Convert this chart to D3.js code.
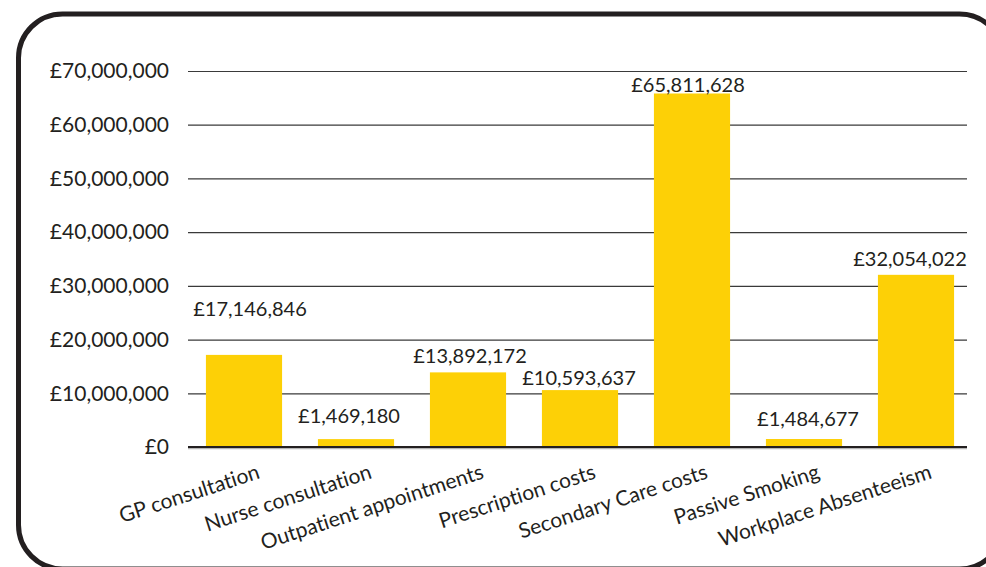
<!DOCTYPE html>
<html>
<head>
<meta charset="utf-8">
<script src="https://cdn.jsdelivr.net/npm/d3@7"></script>
<style>
    body { margin: 0; background: #ffffff; }
    svg { display: block; font-family: Lato, "Open Sans", sans-serif; font-variant-ligatures: none; }
</style>
</head>
<body>
<div class="costChart"></div>
<script>
// categories and values
const categories = ["GP consultation", "Nurse consultation", "Outpatient appointments", "Prescription costs",
    "Secondary Care costs", "Passive Smoking", "Workplace Absenteeism"]
const costs = [17146846, 1469180, 13892172, 10593637, 65811628, 1484677, 32054022]
const yTicks = [0, 10000000, 20000000, 30000000, 40000000, 50000000, 60000000, 70000000]

// hand nudges of the value labels (they sit a bit off in the original)
const labelDx = [6, -7, 2, -1, -4, 4, -6]
const labelDy = [-31, -8, -1, 3, 7, -5, -1]

function renderCostChart() {
    const width = 986
    const height = 567
    const margin = {left: 188, right: 19, top: 71, bottom: 120}
    const ink = "#231f20"

    const svg = d3.select('.costChart').append('svg')
        .attr('width', width)
        .attr('height', height)

    // rounded frame, runs off the right and bottom edges
    svg.append("rect")
        .attr("x", 18.5)
        .attr("y", 14)
        .attr("width", 985)
        .attr("height", 555)
        .attr("rx", 44)
        .attr("fill", "none")
        .attr("stroke", ink)
        .attr("stroke-width", 5)

    const x = d3.scaleBand()
        .domain(categories)
        .range([margin.left, 972])
        .paddingInner(0.32)
        .paddingOuter(0.16)

    const y = d3.scaleLinear()
        .domain([0, 70000000])
        .range([height - margin.bottom, margin.top])

    const money = v => "£" + d3.format(",")(v)
    const gridEnd = width - margin.right

    // gridlines + y labels
    const yAxis = svg.append("g")
        .attr("transform", "translate(" + margin.left + ",0)")
        .call(d3.axisLeft(y).tickValues(yTicks).tickFormat(money).tickSize(-(gridEnd - margin.left)).tickPadding(19))
    yAxis.select(".domain").remove()
    yAxis.selectAll(".tick line")
        .attr("stroke", "#3a3a3a")
        .attr("stroke-width", 1.2)
    yAxis.selectAll(".tick text")
        .attr("fill", ink)
        .attr("font-size", "21px")
        .attr("font-family", "Lato, sans-serif")

    const cost = categories.map((c, i) => ({name: c, value: costs[i], i: i}))

    svg.selectAll(".bar")
        .data(cost).enter()
        .append("rect")
        .attr("class", "bar")
        .attr("x", d => x(d.name))
        .attr("y", d => y(d.value))
        .attr("width", x.bandwidth())
        .attr("height", d => y(0) - y(d.value))
        .attr("fill", "#fdd006")

    // baseline
    svg.append("line")
        .attr("x1", margin.left)
        .attr("x2", gridEnd)
        .attr("y1", y(0) + 1.5)
        .attr("y2", y(0) + 1.5)
        .attr("stroke", "#b5b5b5")
        .attr("stroke-width", 1.5)
    svg.append("line")
        .attr("x1", margin.left)
        .attr("x2", gridEnd)
        .attr("y1", y(0))
        .attr("y2", y(0))
        .attr("stroke", ink)
        .attr("stroke-width", 2)

    svg.selectAll(".valueLabel")
        .data(cost).enter()
        .append("text")
        .attr("class", "valueLabel")
        .attr("x", d => x(d.name) + x.bandwidth() / 2 + labelDx[d.i])
        .attr("y", d => y(d.value) - 8 + labelDy[d.i])
        .attr("text-anchor", "middle")
        .attr("font-size", "20px")
        .attr("fill", ink)
        .text(d => money(d.value))

    // slanted category labels
    svg.selectAll(".catLabel")
        .data(cost).enter()
        .append("text")
        .attr("class", "catLabel")
        .attr("transform", d => "translate(" + (x(d.name) + x.bandwidth() / 2 + 12) + "," + (y(0) + 16) + ") rotate(-18)")
        .attr("text-anchor", "end")
        .attr("dy", "0.75em")
        .attr("font-size", "21px")
        .attr("fill", ink)
        .text(d => d.name)
}

renderCostChart()
</script>
</body>
</html>
